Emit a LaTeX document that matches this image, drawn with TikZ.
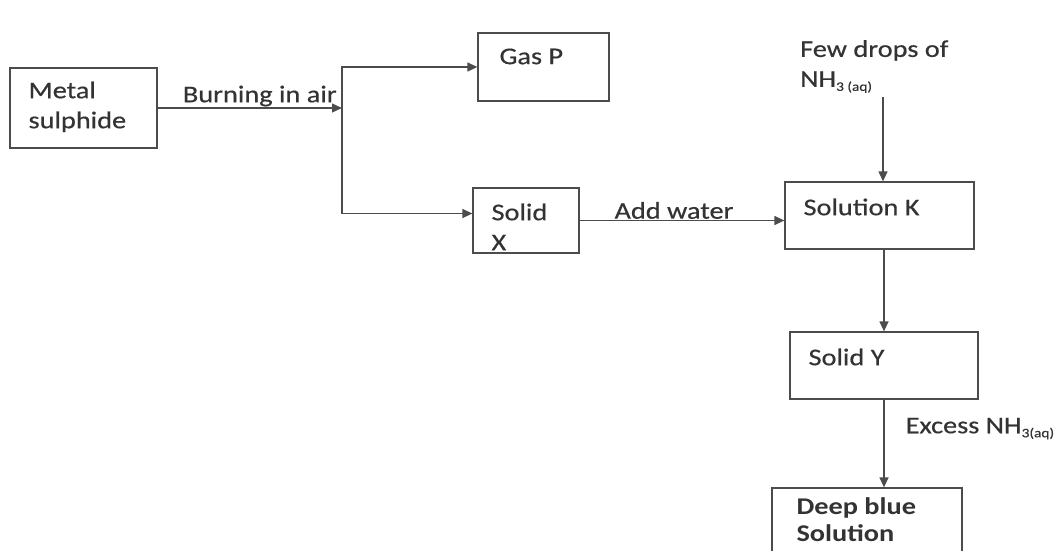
\documentclass[tikz,border=0pt]{standalone}
\usepackage{fontspec}
\setmainfont{Carlito}[FakeStretch=1.18, UprightFeatures={FakeBold=0.5}]
\usetikzlibrary{arrows.meta, positioning}
\newcommand{\lowtxt}[1]{\raisebox{-4pt}{\fontsize{13}{13}\selectfont #1}}

\begin{document}
\begin{tikzpicture}[
        x=1pt, y=-1pt,
        box/.style={draw=black!70, line width=1.3pt, inner sep=0pt},
        lbl/.style={anchor=north west, inner sep=0pt, align=left, text=black!80, font=\fontsize{24}{30}\selectfont, xshift=19pt, yshift=-14pt},
        edgetext/.style={text=black!80, font=\fontsize{24}{30}\selectfont, inner sep=1pt},
        link/.style={draw=black!70, line width=1.3pt, -{Triangle[length=10pt, width=9pt]}}
    ]
        \useasboundingbox (0,0) rectangle (1058,550);
        \clip (0,0) rectangle (1058,550);

        \node[box, minimum width=147pt, minimum height=80pt, label={[lbl]north west:{Metal\\sulphide}}] (metal) at (83.5,108) {};
        \node[box, minimum width=131pt, minimum height=68pt, label={[lbl, xshift=3pt, yshift=-2pt]north west:{Gas P}}] (gasp) at (543.5,67) {};
        \node[box, minimum width=106pt, minimum height=65pt, label={[lbl, yshift=-2pt]north west:{Solid\\X}}] (solidx) at (526,220.5) {};
        \node[box, minimum width=189pt, minimum height=67pt, label={[lbl, yshift=-3pt]north west:{Solution K}}] (solk) at (879.5,215.5) {};
        \node[box, minimum width=188pt, minimum height=67pt, label={[lbl, yshift=-3pt]north west:{Solid Y}}] (solidy) at (884,365.5) {};
        \node[box, minimum width=190pt, minimum height=80pt, label={[lbl, xshift=6pt, yshift=4pt, font=\fontsize{24}{27}\selectfont\bfseries]north west:{Deep blue\\Solution}}] (deep) at (867,528) {};

        \node[edgetext, anchor=north west, align=left, inner sep=0pt] (fewdrops) at (800,40) {Few drops of\\NH\lowtxt{3 (aq)}};

        \coordinate (split) at (342,108);
        \coordinate (nhtop) at (883,97);

        \draw[link] (metal.east) -- node[edgetext, above, xshift=10pt] {Burning in air} (split);
        \draw[link] (split) |- (gasp.west);
        \draw[link] (split) |- ([yshift=7pt]solidx.west);
        \draw[link] (solidx.east) -- node[edgetext, above, xshift=-8pt] {Add water} (solidx.east -| solk.west);
        \draw[link] (nhtop) -- (nhtop |- solk.north);
        \draw[link] (solidy.north |- solk.south) -- (solidy.north);
        \draw[link] (solidy.south) -- node[edgetext, right, xshift=20pt, pos=0.33] {Excess NH\lowtxt{3(aq)}} (solidy.south |- deep.north);
    \end{tikzpicture}
\end{document}
